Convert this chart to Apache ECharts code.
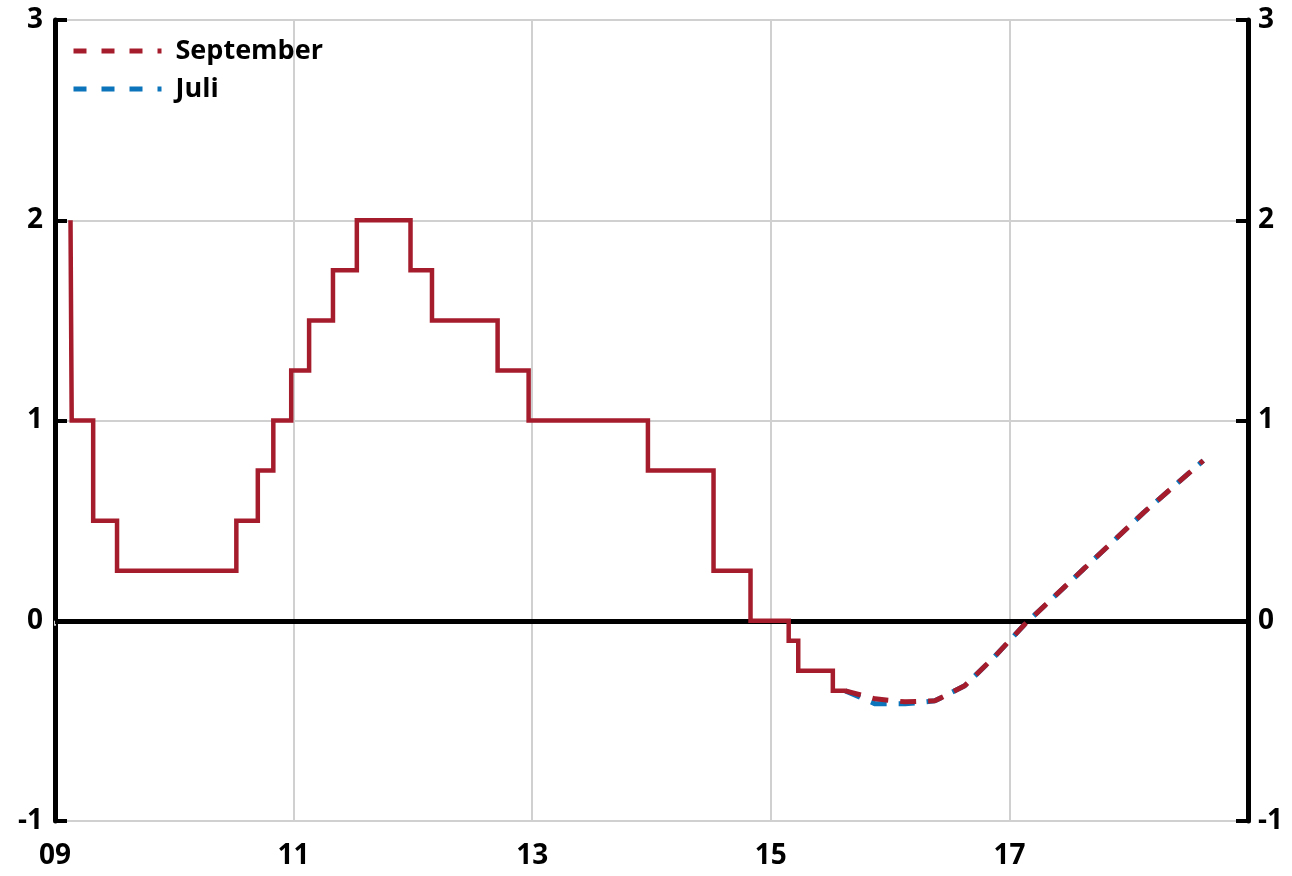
<!DOCTYPE html>
<html>
<head>
<meta charset="utf-8">
<script src="https://cdn.jsdelivr.net/npm/echarts@6/dist/echarts.min.js"></script>
<style>
  html, body { margin: 0; padding: 0; background: #fff; }
  #chart { width: 1292px; height: 876px; }
</style>
</head>
<body>
<div id="chart"></div>
<script>
// repo rate outcome: date (decimal year) of each change and the new level
var rateDates = [2009.13, 2009.14, 2009.32, 2009.52, 2010.52, 2010.70, 2010.83, 2010.98,
  2011.13, 2011.33, 2011.53, 2011.98, 2012.16, 2012.71, 2012.97, 2013.97,
  2014.52, 2014.83, 2015.15, 2015.23, 2015.52, 2015.63];
var rateValues = [2, 1, 0.5, 0.25, 0.5, 0.75, 1, 1.25,
  1.5, 1.75, 2, 1.75, 1.5, 1.25, 1, 0.75,
  0.25, 0, -0.1, -0.25, -0.35, -0.35];

// forecasts, one point per quarter (mid quarter)
var forecastDates = [2015.625, 2015.875, 2016.125, 2016.375, 2016.625, 2016.875, 2017.125,
  2017.375, 2017.625, 2017.875, 2018.125, 2018.375, 2018.625];
var septValues = [-0.35, -0.39, -0.405, -0.40, -0.325, -0.18, -0.02,
  0.12, 0.26, 0.40, 0.54, 0.67, 0.80];
var juliValues = [-0.35, -0.415, -0.415, -0.40, -0.325, -0.18, -0.02,
  0.12, 0.26, 0.40, 0.54, 0.67, 0.80];

var yTicks = [-1, 0, 1, 2, 3];
var xTickLabels = { 2009: "09", 2011: "11", 2013: "13", 2015: "15", 2017: "17" };

function pairs(xs, ys) {
  return xs.map(function(x, i) {
    return [x, ys[i]];
  });
}

var red = "#a51d2d",
  blue = "#0b74ba",
  font = "Open Sans";

var chart = echarts.init(document.getElementById("chart"));

var yAxisBase = {
  type: "value",
  min: yTicks[0],
  max: yTicks[yTicks.length - 1],
  interval: 1,
  axisLine: { show: true, onZero: false, lineStyle: { color: "#000", width: 5 } },
  axisTick: { show: true, inside: true, length: 12, lineStyle: { color: "#000", width: 4 } },
  axisLabel: { color: "#000", fontFamily: font, fontWeight: "bold", fontSize: 28 }
};

var option = {
  animation: false,
  grid: { left: 55, right: 44, top: 20, bottom: 55, containLabel: false },
  legend: {
    orient: "vertical",
    left: 66,
    top: 32,
    itemWidth: 88,
    itemHeight: 14,
    itemGap: 10,
    data: ["September", "Juli"],
    itemStyle: { opacity: 0 },
    lineStyle: { width: 5, type: [13, 15], cap: "butt" },
    textStyle: {
      color: "#000",
      fontFamily: font,
      fontWeight: "bold",
      fontSize: 27,
      lineHeight: 28,
      padding: [0, 0, 0, 9]
    }
  },
  xAxis: {
    type: "value",
    min: 2009,
    max: 2019,
    interval: 2,
    axisLine: { show: false },
    axisTick: { show: true, length: 5, lineStyle: { color: "#d0d0d0", width: 2 } },
    splitLine: { show: true, lineStyle: { color: "#d0d0d0", width: 2 } },
    axisLabel: {
      showMaxLabel: false,
      margin: 21,
      color: "#000",
      fontFamily: font,
      fontWeight: "bold",
      fontSize: 28,
      formatter: function(v) {
        return xTickLabels[v] || "";
      }
    }
  },
  yAxis: [
    Object.assign({}, yAxisBase, {
      position: "left",
      splitLine: { show: true, lineStyle: { color: "#d0d0d0", width: 2 } },
      axisLabel: Object.assign({}, yAxisBase.axisLabel, { margin: 12 })
    }),
    Object.assign({}, yAxisBase, {
      position: "right",
      splitLine: { show: false },
      axisLabel: Object.assign({}, yAxisBase.axisLabel, { margin: 10 })
    })
  ],
  series: [
    {
      name: "Juli",
      type: "line",
      z: 2,
      data: pairs(forecastDates, juliValues),
      showSymbol: false,
      symbol: "none",
      color: blue,
      lineStyle: { color: blue, width: 5, type: [16, 12] },
      markLine: {
        silent: true,
        z: 1,
        symbol: "none",
        label: { show: false },
        lineStyle: { color: "#000", width: 5, type: "solid" },
        data: [{ yAxis: 0 }]
      }
    },
    {
      name: "Utfall",
      type: "line",
      z: 3,
      step: "end",
      data: pairs(rateDates, rateValues),
      showSymbol: false,
      symbol: "none",
      color: red,
      lineStyle: { color: red, width: 4.5, join: "miter", cap: "butt" }
    },
    {
      name: "September",
      type: "line",
      z: 4,
      data: pairs(forecastDates, septValues),
      showSymbol: false,
      symbol: "none",
      color: red,
      lineStyle: { color: red, width: 5, type: [16, 12] }
    }
  ]
};

chart.setOption(option);
</script>
</body>
</html>
